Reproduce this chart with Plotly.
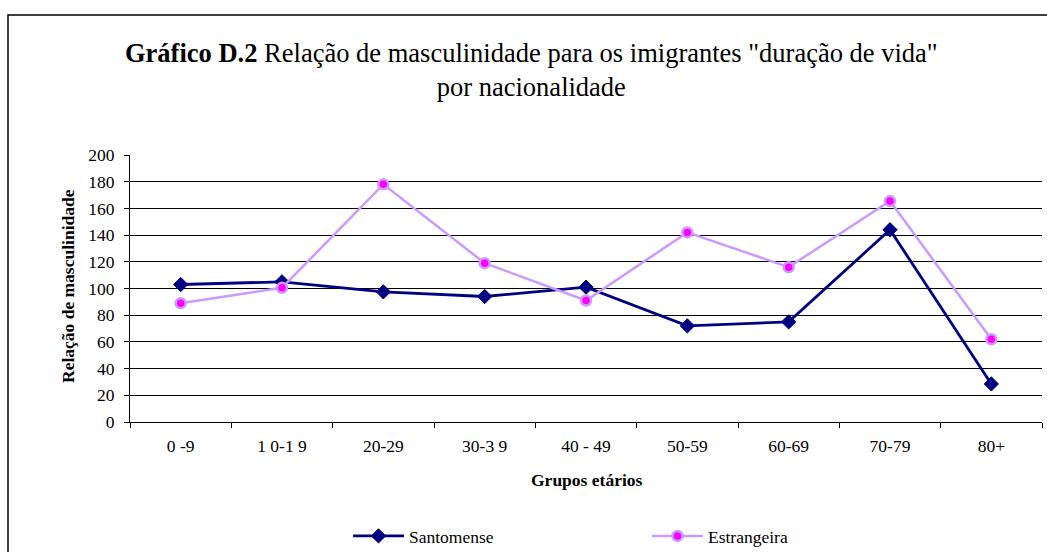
import plotly.graph_objects as go

categories = ["0 -9", "1 0-1 9", "20-29", "30-3 9", "40 - 49", "50-59", "60-69", "70-79", "80+"]
santomense = [103, 105, 97.5, 94, 101, 72, 75, 144, 28.5]
estrangeira = [89, 100.5, 178, 119, 91, 142, 116, 165.5, 62]

W, H = 1047, 552
L, R, T, B = 130, 5, 155, 130
pw, ph = W - L - R, H - T - B

def px(x):
    return (x - L) / pw

def py(y):
    return (H - B - y) / ph

serif = "Liberation Serif, Times New Roman, serif"
FS = 17.5

fig = go.Figure()
fig.add_trace(go.Scatter(
    x=categories, y=santomense, name="Santomense", mode="lines+markers",
    line=dict(color="#000080", width=2.8),
    marker=dict(symbol="diamond", size=11, color="#000080", line=dict(color="#000080", width=1)),
))
fig.add_trace(go.Scatter(
    x=categories, y=estrangeira, name="Estrangeira", mode="lines+markers",
    line=dict(color="#CC99FF", width=2.5),
    marker=dict(symbol="circle", size=10, color="#FF00FF", line=dict(color="#CC99FF", width=2.5)),
))

fig.update_layout(
    width=W, height=H,
    margin=dict(l=L, r=R, t=T, b=B, autoexpand=False),
    paper_bgcolor="white", plot_bgcolor="white",
    font=dict(family=serif, size=FS, color="black"),
    showlegend=True,
    legend=dict(orientation="h", x=px(348), xanchor="left", y=py(536), yanchor="middle",
                itemwidth=51, entrywidth=233, entrywidthmode="pixels",
                font=dict(family=serif, size=FS, color="black"), bgcolor="rgba(0,0,0,0)"),
    xaxis=dict(type="category", range=[-0.5, 8.5], tickson="boundaries", ticks="outside",
               ticklen=5, tickcolor="black", showline=True, linecolor="black", linewidth=1,
               showgrid=False, tickfont=dict(family=serif, size=FS), fixedrange=True,
               ticklabelstandoff=8),
    yaxis=dict(range=[0, 200], dtick=20, ticks="outside", ticklen=5, tickcolor="black",
               showline=True, linecolor="black", linewidth=1, showgrid=True,
               gridcolor="black", gridwidth=1, zeroline=False, ticklabelstandoff=6,
               tickfont=dict(family=serif, size=FS), fixedrange=True),
)

fig.add_annotation(x=px(531), y=py(70), xref="paper", yref="paper", showarrow=False,
                   text="<b>Gráfico D.2</b> Relação de masculinidade para os imigrantes \"duração de vida\"<br>por nacionalidade",
                   font=dict(family=serif, size=26.5, color="black"), xanchor="center", yanchor="middle",
                   align="center")
fig.add_annotation(x=px(68), y=py(286), xref="paper", yref="paper", showarrow=False,
                   text="<b>Relação de masculinidade</b>", textangle=-90,
                   font=dict(family=serif, size=FS, color="black"), xanchor="center", yanchor="middle")
fig.add_annotation(x=px(587), y=py(480), xref="paper", yref="paper", showarrow=False,
                   text="<b>Grupos etários</b>",
                   font=dict(family=serif, size=FS, color="black"), xanchor="center", yanchor="middle")

fig.add_shape(type="rect", xref="paper", yref="paper",
              x0=px(8), y0=py(15), x1=px(1300), y1=py(800),
              line=dict(color="black", width=1.5), fillcolor="rgba(0,0,0,0)", layer="below")

fig.write_html("out.html", config={"displayModeBar": False},
               post_script="document.body.style.margin='0';document.body.style.overflow='hidden';")
